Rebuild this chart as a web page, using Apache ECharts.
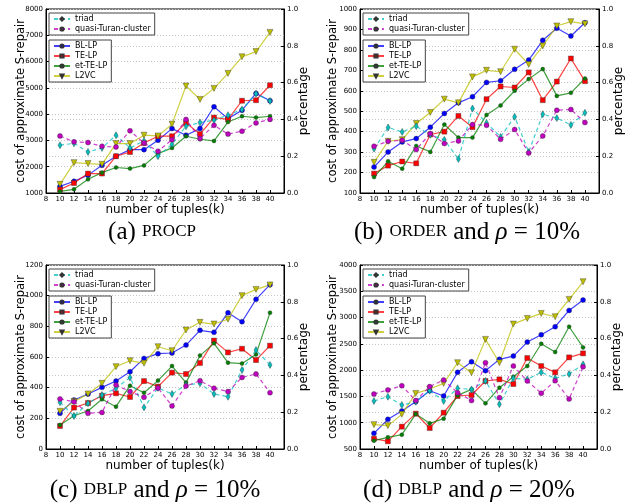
<!DOCTYPE html>
<html>
<head>
<meta charset="utf-8">
<script src="https://cdn.jsdelivr.net/npm/echarts@6/dist/echarts.min.js"></script>
<style>
  html, body { margin: 0; padding: 0; background: #fff; }
  #chart { width: 640px; height: 504px; }
</style>
</head>
<body>
<div id="chart"></div>
<script>
// x categories (number of tuples, k)
const tuplesK = [10, 12, 14, 16, 18, 20, 22, 24, 26, 28, 30, 32, 34, 36, 38, 40];

// (a) PROCP
const procpBL = [1250, 1445, 1680, 2055, 2400, 2650, 2650, 3010, 3450, 3200, 3450, 4280, 3830, 4150, 4790, 4510];
const procpTE = [1130, 1380, 1740, 1740, 2400, 2560, 2900, 3160, 3160, 3670, 3240, 3870, 3800, 4510, 4530, 5100];
const procpEtTE = [1060, 1140, 1520, 1775, 1970, 1930, 2050, 2500, 2715, 3160, 3045, 2980, 3700, 3920, 3870, 3920];
const procpL2VC = [1330, 2155, 2120, 2090, 2880, 2880, 3200, 3170, 3620, 5070, 4560, 4980, 5550, 6180, 6380, 7110];
const procpTriad = [0.26, 0.27, 0.223, 0.245, 0.314, 0.245, 0.283, 0.2, 0.265, 0.363, 0.383, 0.396, 0.423, 0.454, 0.54, 0.50];
const procpQuasi = [0.31, 0.278, 0.274, 0.254, 0.25, 0.338, 0.272, 0.227, 0.29, 0.40, 0.296, 0.368, 0.32, 0.336, 0.381, 0.40];

// (b) ORDER, rho = 10%
const orderBL = [227, 301, 350, 366, 422, 489, 541, 571, 641, 649, 705, 750, 847, 906, 868, 933];
const orderTE = [195, 234, 254, 245, 386, 400, 477, 422, 559, 621, 616, 690, 554, 645, 758, 647];
const orderEtTE = [178, 255, 219, 330, 301, 435, 371, 371, 482, 528, 600, 657, 706, 575, 590, 660];
const orderL2VC = [250, 353, 361, 440, 494, 559, 541, 668, 700, 693, 803, 729, 819, 917, 938, 927];
const orderTriad = [0.241, 0.356, 0.332, 0.363, 0.316, 0.289, 0.185, 0.459, 0.381, 0.305, 0.414, 0.223, 0.428, 0.407, 0.37, 0.436];
const orderQuasi = [0.254, 0.281, 0.287, 0.236, 0.323, 0.269, 0.283, 0.372, 0.368, 0.292, 0.345, 0.218, 0.31, 0.45, 0.454, 0.383];

// (c) DBLP, rho = 10%
const dblp10BL = [233, 320, 359, 402, 443, 504, 591, 622, 626, 678, 774, 761, 889, 830, 976, 1072];
const dblp10TE = [150, 270, 300, 348, 363, 339, 443, 407, 498, 489, 561, 707, 630, 654, 580, 674];
const dblp10EtTE = [157, 217, 248, 324, 276, 413, 367, 446, 541, 433, 609, 689, 563, 557, 617, 889];
const dblp10L2VC = [246, 309, 359, 428, 537, 576, 559, 667, 641, 776, 826, 815, 846, 1000, 1041, 1070];
const dblp10Triad = [0.254, 0.179, 0.248, 0.293, 0.33, 0.388, 0.226, 0.332, 0.299, 0.348, 0.357, 0.299, 0.284, 0.429, 0.538, 0.457];
const dblp10Quasi = [0.272, 0.257, 0.194, 0.199, 0.348, 0.312, 0.281, 0.332, 0.234, 0.342, 0.371, 0.33, 0.312, 0.389, 0.408, 0.306];

// (d) DBLP, rho = 20%
const dblp20BL = [798, 1064, 1222, 1400, 1609, 1508, 1958, 2160, 1990, 2205, 2268, 2534, 2674, 2826, 3136, 3333];
const dblp20TE = [696, 646, 925, 1172, 899, 1191, 1508, 1527, 1793, 1825, 1736, 2230, 2078, 1958, 2243, 2319];
const dblp20EtTE = [658, 722, 772, 1165, 988, 1077, 1520, 1634, 1368, 1666, 1875, 2078, 2502, 2344, 2826, 2433];
const dblp20L2VC = [963, 944, 1159, 1558, 1640, 1748, 2141, 1951, 2585, 2141, 2876, 2984, 3079, 3016, 3346, 3681];
const dblp20Triad = [0.261, 0.284, 0.239, 0.257, 0.317, 0.261, 0.33, 0.324, 0.37, 0.243, 0.384, 0.379, 0.417, 0.384, 0.408, 0.46];
const dblp20Quasi = [0.299, 0.321, 0.344, 0.263, 0.339, 0.375, 0.306, 0.263, 0.469, 0.279, 0.451, 0.37, 0.303, 0.371, 0.272, 0.447];

// axis ranges per panel
const leftMin = [1000, 100, 0, 500];
const leftMax = [8000, 1000, 1200, 4000];
const leftStep = [1000, 100, 200, 500];

const panels = [
    {bl: procpBL, te: procpTE, et: procpEtTE, l2: procpL2VC, triad: procpTriad, quasi: procpQuasi},
    {bl: orderBL, te: orderTE, et: orderEtTE, l2: orderL2VC, triad: orderTriad, quasi: orderQuasi},
    {bl: dblp10BL, te: dblp10TE, et: dblp10EtTE, l2: dblp10L2VC, triad: dblp10Triad, quasi: dblp10Quasi},
    {bl: dblp20BL, te: dblp20TE, et: dblp20EtTE, l2: dblp20L2VC, triad: dblp20Triad, quasi: dblp20Quasi},
];

// layout of the four plots
const boxes = [
    {left: 46, top: 9, width: 238, height: 184},
    {left: 360, top: 9, width: 239, height: 184},
    {left: 46, top: 265, width: 238, height: 184},
    {left: 360, top: 265, width: 237, height: 184},
];

const FONT = 'DejaVu Sans';
const pair = vals => vals.map((v, i) => [tuplesK[i], v]);

const styles = {
    'BL-LP': {color: '#0000ff', symbol: 'circle', size: 5},
    'TE-LP': {color: '#ff0000', symbol: 'rect', size: 5},
    'et-TE-LP': {color: '#008000', symbol: 'circle', size: 4},
    'L2VC': {color: '#bfbf00', symbol: 'triangle', size: 6, rotate: 180},
    'triad': {color: '#00bfbf', symbol: 'diamond', size: [4, 7], dashed: true},
    'quasi-Turan-cluster': {color: '#bf00bf', symbol: 'circle', size: 5, dashed: true},
};

const makeSeries = (name, vals, idx, right) => {
    const s = styles[name];
    return {
        name,
        type: 'line',
        xAxisIndex: idx,
        yAxisIndex: idx * 2 + (right ? 1 : 0),
        data: pair(vals),
        symbol: s.symbol,
        symbolSize: s.size,
        symbolRotate: s.rotate || 0,
        showAllSymbol: true,
        animation: false,
        z: right ? 3 : 2,
        lineStyle: {color: s.color, width: 1.2, opacity: 0.75, type: s.dashed ? [4, 3] : 'solid'},
        itemStyle: {color: s.color, borderColor: '#333', borderWidth: 0.4},
    };
};

const grid = [], xAxis = [], yAxis = [], series = [], legend = [];
const tickLabel = {fontFamily: FONT, fontSize: 7, color: '#000'};
const nameStyle = {fontFamily: FONT, fontSize: 12, color: '#000'};
const dotted = {show: true, lineStyle: {color: '#c4c4c4', type: [1, 2], width: 1}};

boxes.forEach((b, i) => {
    grid.push({left: b.left, top: b.top, width: b.width, height: b.height, show: true,
        borderColor: '#000', borderWidth: 1, backgroundColor: 'transparent'});
    xAxis.push({
        type: 'value', gridIndex: i, min: 8, max: 42, interval: 2,
        name: 'number of tuples(k)', nameLocation: 'middle', nameGap: 11, nameTextStyle: nameStyle,
        nameMoveOverlap: false,
        axisLine: {lineStyle: {color: '#000'}},
        axisTick: {inside: true, length: 3, lineStyle: {color: '#000'}},
        axisLabel: {...tickLabel, margin: 3, formatter: v => (v > 40 ? '' : String(v))},
        splitLine: {show: false},
    });
    yAxis.push({
        type: 'value', gridIndex: i, position: 'left',
        min: leftMin[i], max: leftMax[i], interval: leftStep[i],
        name: 'cost of approximate S-repair', nameLocation: 'middle',
        nameGap: i % 2 === 0 ? 19 : 21, nameTextStyle: {...nameStyle, fontSize: 11.5},
        nameMoveOverlap: false,
        axisLine: {show: true, lineStyle: {color: '#000'}},
        axisTick: {show: true, inside: true, length: 3, lineStyle: {color: '#000'}},
        axisLabel: {...tickLabel, margin: 3, formatter: v => String(v)},
        splitLine: dotted,
    });
    yAxis.push({
        type: 'value', gridIndex: i, position: 'right',
        min: 0, max: 1, interval: 0.2,
        name: 'percentage', nameLocation: 'middle', nameGap: 14, nameRotate: 90,
        nameTextStyle: {...nameStyle, fontSize: 12},
        nameMoveOverlap: false,
        axisLine: {show: true, lineStyle: {color: '#000'}},
        axisTick: {show: true, inside: true, length: 3, lineStyle: {color: '#000'}},
        axisLabel: {...tickLabel, margin: 3, formatter: v => v.toFixed(1)},
        splitLine: dotted,
    });

    const p = panels[i];
    series.push(makeSeries('BL-LP', p.bl, i, false));
    series.push(makeSeries('TE-LP', p.te, i, false));
    series.push(makeSeries('et-TE-LP', p.et, i, false));
    series.push(makeSeries('L2VC', p.l2, i, false));
    series.push(makeSeries('triad', p.triad, i, true));
    series.push(makeSeries('quasi-Turan-cluster', p.quasi, i, true));

    const legendBase = {
        orient: 'vertical', left: b.left + 3, selectedMode: false,
        borderColor: '#444', borderWidth: 1, backgroundColor: '#fff', borderRadius: 0,
        itemWidth: 16, itemHeight: 4, itemGap: 2,
        textStyle: {fontFamily: FONT, fontSize: 8, color: '#000'},
        z: 10,
    };
    legend.push({...legendBase, top: b.top + 4, padding: [2, 4, 2, 4],
        data: ['triad', 'quasi-Turan-cluster']});
    legend.push({...legendBase, top: b.top + 31, padding: [2, 4, 2, 4],
        data: ['BL-LP', 'TE-LP', 'et-TE-LP', 'L2VC']});
});

// sub-figure captions
const capRich = {
    n: {fontFamily: 'Liberation Serif', fontSize: 25, color: '#000'},
    sc: {fontFamily: 'Liberation Serif', fontSize: 17, color: '#000'},
    it: {fontFamily: 'Liberation Serif', fontSize: 25, fontStyle: 'italic', color: '#000'},
};
const captions = [
    {x: 152, y: 232, text: '{n|(a) }{sc|PROCP}'},
    {x: 467, y: 232, text: '{n|(b) }{sc|ORDER}{n| and }{it|ρ}{n| = 10%}'},
    {x: 155, y: 490, text: '{n|(c) }{sc|DBLP}{n| and }{it|ρ}{n| = 10%}'},
    {x: 469, y: 490, text: '{n|(d) }{sc|DBLP}{n| and }{it|ρ}{n| = 20%}'},
];

const chart = echarts.init(document.getElementById('chart'), null, {renderer: 'canvas'});
chart.setOption({
    animation: false,
    backgroundColor: '#fff',
    grid, xAxis, yAxis, series, legend,
    graphic: captions.map(c => ({
        type: 'text', x: c.x, y: c.y,
        style: {text: c.text, rich: capRich, align: 'center', verticalAlign: 'middle'},
    })),
});
</script>
</body>
</html>
